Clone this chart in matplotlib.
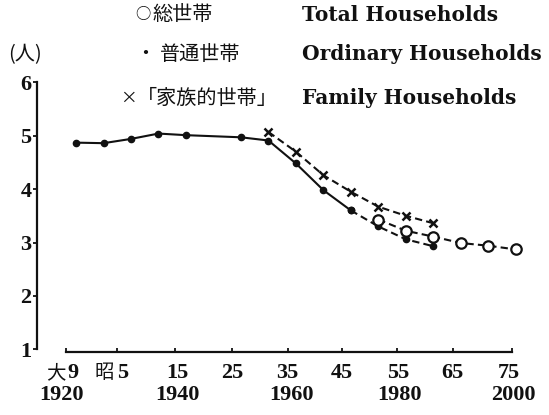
import matplotlib as mpl
mpl.use('Agg')
import matplotlib.pyplot as plt
import numpy as np

plt.rcParams['font.family'] = ['Liberation Serif', 'Noto Sans CJK JP']

# ---- data ----
ord_years = np.array([1920, 1925, 1930, 1935, 1940, 1950, 1955, 1960, 1965, 1970, 1975, 1980, 1985])
ord_vals = np.array([4.87, 4.86, 4.94, 5.04, 5.01, 4.97, 4.91, 4.48, 3.98, 3.60, 3.30, 3.06, 2.93])

fam_years = np.array([1955, 1960, 1965, 1970, 1975, 1980, 1985])
fam_vals = np.array([5.07, 4.70, 4.26, 3.95, 3.67, 3.50, 3.36])

tot_years = np.array([1975, 1980, 1985, 1990, 1995, 2000])
tot_vals = np.array([3.43, 3.22, 3.11, 2.99, 2.94, 2.87])

era_prefix = ['大', '昭', '', '', '', '', '', '', '']
era_labels = ['9', '5', '15', '25', '35', '45', '55', '65', '75']
year_labels = ['1920', '', '1940', '', '1960', '', '1980', '', '2000']
y_ticks = [1, 2, 3, 4, 5, 6]

# tick marks in the original are drawn slightly left of the census points
tick_pos = [1918.2, 1927.5, 1938.0, 1948.4, 1958.5, 1968.4, 1978.4, 1988.5, 1999.3]

W, H = 549, 415
fig = plt.figure(figsize=(W / 100, H / 100), dpi=100)
ax = fig.add_axes([37 / W, 1 - 349.3 / H, (540 - 37) / W, (349.3 - 82.3) / H])
ax.set_xlim(1912.9, 2004.4)
ax.set_ylim(1, 6)

ink = '#111111'
lw = 1.5

# ordinary households: solid up to 1970, dashed after
solid = ord_years <= 1970
dashed = ord_years >= 1970
ax.plot(ord_years[solid], ord_vals[solid], '-', color=ink, lw=lw,
        marker='o', ms=4.5, mfc=ink, mec=ink, zorder=3)
ax.plot(ord_years[dashed], ord_vals[dashed], color=ink, lw=lw, dashes=(3.5, 2),
        marker='o', ms=4.5, mfc=ink, mec=ink, zorder=3)

# family households
ax.plot(fam_years, fam_vals, color=ink, lw=lw, dashes=(3.5, 2),
        marker='x', ms=6, mew=1.8, mec=ink, zorder=3)

# total households
ax.plot(tot_years, tot_vals, color=ink, lw=lw, dashes=(3.5, 2),
        marker='o', ms=7.5, mfc='white', mec=ink, mew=1.6, zorder=4)

# axes styling
for s in ['top', 'right']:
    ax.spines[s].set_visible(False)
ax.spines['left'].set_bounds(1, 6)
ax.spines['left'].set_linewidth(1.6)
ax.spines['left'].set_color(ink)
ax.spines['bottom'].set_position(('outward', 2.2))
ax.spines['bottom'].set_bounds(tick_pos[0], tick_pos[-1])
ax.spines['bottom'].set_linewidth(1.6)
ax.spines['bottom'].set_color(ink)

ax.set_yticks(y_ticks)
ax.set_yticklabels([str(v) for v in y_ticks])
ax.tick_params(axis='y', direction='out', length=3, width=1.3, pad=1,
               labelsize=16, colors=ink)
for lab in ax.get_yticklabels():
    lab.set_fontweight('bold')

ax.set_xticks(tick_pos)
ax.tick_params(axis='x', direction='in', length=3, width=1.3, labelbottom=False, colors=ink)

xt = ax.get_xaxis_transform()
row1_dx = [5, 3.6, 2, 0, 0, 0, 0.5, 0, -2]
pre_dx = [-0.5, -2.5]
for i, (p, lab, dx) in enumerate(zip(tick_pos, era_labels, row1_dx)):
    ax.annotate(lab, xy=(p, 0), xycoords=xt, xytext=(dx, -20.7), textcoords='offset points',
                ha='center', va='baseline', fontsize=16, fontweight='bold', color=ink,
                annotation_clip=False)
    if era_prefix[i]:
        ax.annotate(era_prefix[i], xy=(p, 0), xycoords=xt, xytext=(pre_dx[i], -20.7),
                    textcoords='offset points', ha='right', va='baseline', fontsize=14,
                    family=['Noto Sans CJK JP'], color=ink, annotation_clip=False)
row2_dx = [-3.6, 0, 1.5, 0, 3, 0, 1.5, 0, 0.7]
for p, lab, dx in zip(tick_pos, year_labels, row2_dx):
    if lab:
        ax.annotate(lab, xy=(p, 0), xycoords=xt, xytext=(dx, -36.5), textcoords='offset points',
                    ha='center', va='baseline', fontsize=16, fontweight='bold', color=ink,
                    annotation_clip=False)

# legend block drawn as text, like the original
def px(x, y):
    return x / W, 1 - y / H

jp = dict(fontsize=14.5, family=['Noto Sans CJK JP'], color=ink, va='center')
en = dict(fontsize=14.5, family=['DejaVu Serif'], fontweight='bold', color=ink, va='center')

fig.text(*px(25, 55), '(人)', ha='center', **jp)

fig.text(*px(143, 15), '○', ha='center', **dict(jp, fontsize=11))
fig.text(*px(152, 15), '総世帯', ha='left', **jp)
fig.text(*px(302, 15), 'Total Households', ha='left', **en)

fig.text(*px(145, 54), '・', ha='center', **jp)
fig.text(*px(160, 54), '普通世帯', ha='left', **jp)
fig.text(*px(302, 54), 'Ordinary Households', ha='left', **en)

fig.text(*px(137, 98), '×', ha='right', **dict(jp, fontsize=12))
fig.text(*px(137, 98), '「家族的世帯」', ha='left', **jp)
fig.text(*px(302, 98), 'Family Households', ha='left', **en)

fig.savefig('out.png', dpi=100, facecolor='white')
